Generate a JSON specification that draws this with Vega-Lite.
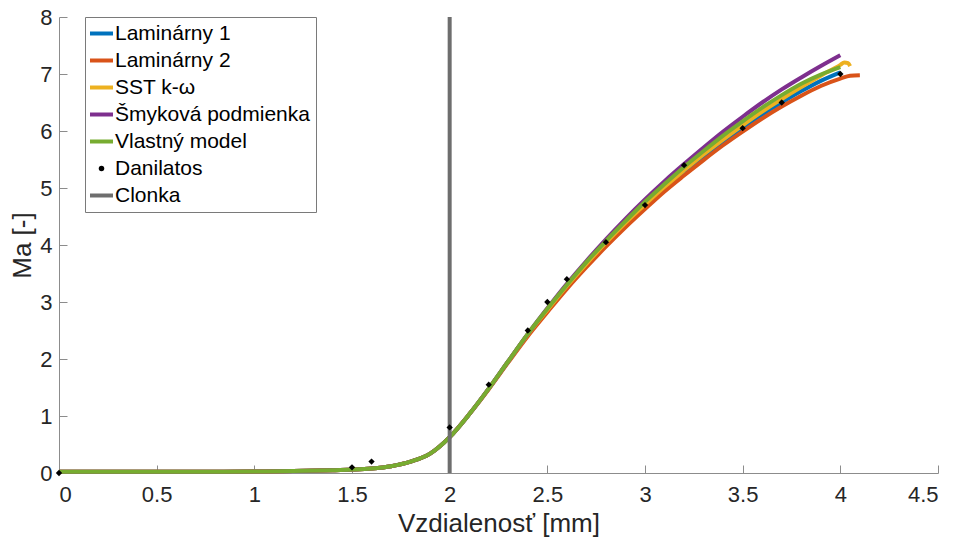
{
  "$schema": "https://vega.github.io/schema/vega-lite/v6.json",
  "width": 879,
  "height": 456,
  "autosize": "none",
  "padding": {"left": 59, "top": 17, "right": 22, "bottom": 69},
  "background": "white",
  "datasets": {
    "curves": [
      {"series":"Laminárny 1","x":0,"y":0.02},{"series":"Laminárny 1","x":0.5,"y":0.02},{"series":"Laminárny 1","x":1.0,"y":0.025},{"series":"Laminárny 1","x":1.2,"y":0.033},{"series":"Laminárny 1","x":1.4,"y":0.048},{"series":"Laminárny 1","x":1.5,"y":0.06},{"series":"Laminárny 1","x":1.6,"y":0.08},{"series":"Laminárny 1","x":1.7,"y":0.12},{"series":"Laminárny 1","x":1.8,"y":0.2},{"series":"Laminárny 1","x":1.9,"y":0.34},{"series":"Laminárny 1","x":2.0,"y":0.63},{"series":"Laminárny 1","x":2.1,"y":1.03},{"series":"Laminárny 1","x":2.2,"y":1.48},{"series":"Laminárny 1","x":2.3,"y":1.96},{"series":"Laminárny 1","x":2.4,"y":2.43},{"series":"Laminárny 1","x":2.5,"y":2.85},{"series":"Laminárny 1","x":2.6,"y":3.26},{"series":"Laminárny 1","x":2.7,"y":3.64},{"series":"Laminárny 1","x":2.8,"y":4.01},{"series":"Laminárny 1","x":2.9,"y":4.35},{"series":"Laminárny 1","x":3.0,"y":4.68},{"series":"Laminárny 1","x":3.1,"y":4.99},{"series":"Laminárny 1","x":3.2,"y":5.28},{"series":"Laminárny 1","x":3.3,"y":5.55},{"series":"Laminárny 1","x":3.4,"y":5.81},{"series":"Laminárny 1","x":3.5,"y":6.06},{"series":"Laminárny 1","x":3.6,"y":6.29},{"series":"Laminárny 1","x":3.7,"y":6.5},{"series":"Laminárny 1","x":3.8,"y":6.7},{"series":"Laminárny 1","x":3.9,"y":6.88},{"series":"Laminárny 1","x":4.0,"y":7.03},
      {"series":"Laminárny 2","x":0,"y":0.02},{"series":"Laminárny 2","x":0.5,"y":0.02},{"series":"Laminárny 2","x":1.0,"y":0.025},{"series":"Laminárny 2","x":1.2,"y":0.033},{"series":"Laminárny 2","x":1.4,"y":0.048},{"series":"Laminárny 2","x":1.5,"y":0.06},{"series":"Laminárny 2","x":1.6,"y":0.08},{"series":"Laminárny 2","x":1.7,"y":0.12},{"series":"Laminárny 2","x":1.8,"y":0.2},{"series":"Laminárny 2","x":1.9,"y":0.34},{"series":"Laminárny 2","x":2.0,"y":0.63},{"series":"Laminárny 2","x":2.1,"y":1.03},{"series":"Laminárny 2","x":2.2,"y":1.47},{"series":"Laminárny 2","x":2.3,"y":1.94},{"series":"Laminárny 2","x":2.4,"y":2.4},{"series":"Laminárny 2","x":2.5,"y":2.82},{"series":"Laminárny 2","x":2.6,"y":3.23},{"series":"Laminárny 2","x":2.7,"y":3.61},{"series":"Laminárny 2","x":2.8,"y":3.97},{"series":"Laminárny 2","x":2.9,"y":4.31},{"series":"Laminárny 2","x":3.0,"y":4.63},{"series":"Laminárny 2","x":3.1,"y":4.94},{"series":"Laminárny 2","x":3.2,"y":5.22},{"series":"Laminárny 2","x":3.3,"y":5.49},{"series":"Laminárny 2","x":3.4,"y":5.75},{"series":"Laminárny 2","x":3.5,"y":5.99},{"series":"Laminárny 2","x":3.6,"y":6.22},{"series":"Laminárny 2","x":3.7,"y":6.43},{"series":"Laminárny 2","x":3.8,"y":6.62},{"series":"Laminárny 2","x":3.9,"y":6.79},{"series":"Laminárny 2","x":4.0,"y":6.92},{"series":"Laminárny 2","x":4.05,"y":6.97},{"series":"Laminárny 2","x":4.1,"y":6.98},
      {"series":"SST k-ω","x":0,"y":0.02},{"series":"SST k-ω","x":0.5,"y":0.02},{"series":"SST k-ω","x":1.0,"y":0.025},{"series":"SST k-ω","x":1.2,"y":0.033},{"series":"SST k-ω","x":1.4,"y":0.048},{"series":"SST k-ω","x":1.5,"y":0.06},{"series":"SST k-ω","x":1.6,"y":0.08},{"series":"SST k-ω","x":1.7,"y":0.12},{"series":"SST k-ω","x":1.8,"y":0.2},{"series":"SST k-ω","x":1.9,"y":0.34},{"series":"SST k-ω","x":2.0,"y":0.63},{"series":"SST k-ω","x":2.1,"y":1.03},{"series":"SST k-ω","x":2.2,"y":1.48},{"series":"SST k-ω","x":2.3,"y":1.96},{"series":"SST k-ω","x":2.4,"y":2.43},{"series":"SST k-ω","x":2.5,"y":2.86},{"series":"SST k-ω","x":2.6,"y":3.28},{"series":"SST k-ω","x":2.7,"y":3.67},{"series":"SST k-ω","x":2.8,"y":4.04},{"series":"SST k-ω","x":2.9,"y":4.39},{"series":"SST k-ω","x":3.0,"y":4.71},{"series":"SST k-ω","x":3.1,"y":5.02},{"series":"SST k-ω","x":3.2,"y":5.31},{"series":"SST k-ω","x":3.3,"y":5.59},{"series":"SST k-ω","x":3.4,"y":5.85},{"series":"SST k-ω","x":3.5,"y":6.1},{"series":"SST k-ω","x":3.6,"y":6.34},{"series":"SST k-ω","x":3.7,"y":6.56},{"series":"SST k-ω","x":3.8,"y":6.77},{"series":"SST k-ω","x":3.9,"y":6.97},{"series":"SST k-ω","x":4.0,"y":7.16},{"series":"SST k-ω","x":4.02,"y":7.2},{"series":"SST k-ω","x":4.04,"y":7.19},{"series":"SST k-ω","x":4.05,"y":7.14},
      {"series":"Šmyková podmienka","x":0,"y":0.02},{"series":"Šmyková podmienka","x":0.5,"y":0.02},{"series":"Šmyková podmienka","x":1.0,"y":0.025},{"series":"Šmyková podmienka","x":1.2,"y":0.033},{"series":"Šmyková podmienka","x":1.4,"y":0.048},{"series":"Šmyková podmienka","x":1.5,"y":0.06},{"series":"Šmyková podmienka","x":1.6,"y":0.08},{"series":"Šmyková podmienka","x":1.7,"y":0.12},{"series":"Šmyková podmienka","x":1.8,"y":0.2},{"series":"Šmyková podmienka","x":1.9,"y":0.34},{"series":"Šmyková podmienka","x":2.0,"y":0.63},{"series":"Šmyková podmienka","x":2.1,"y":1.03},{"series":"Šmyková podmienka","x":2.2,"y":1.48},{"series":"Šmyková podmienka","x":2.3,"y":1.96},{"series":"Šmyková podmienka","x":2.4,"y":2.44},{"series":"Šmyková podmienka","x":2.5,"y":2.89},{"series":"Šmyková podmienka","x":2.6,"y":3.32},{"series":"Šmyková podmienka","x":2.7,"y":3.72},{"series":"Šmyková podmienka","x":2.8,"y":4.1},{"series":"Šmyková podmienka","x":2.9,"y":4.46},{"series":"Šmyková podmienka","x":3.0,"y":4.8},{"series":"Šmyková podmienka","x":3.1,"y":5.12},{"series":"Šmyková podmienka","x":3.2,"y":5.42},{"series":"Šmyková podmienka","x":3.3,"y":5.71},{"series":"Šmyková podmienka","x":3.4,"y":5.99},{"series":"Šmyková podmienka","x":3.5,"y":6.25},{"series":"Šmyková podmienka","x":3.6,"y":6.5},{"series":"Šmyková podmienka","x":3.7,"y":6.73},{"series":"Šmyková podmienka","x":3.8,"y":6.94},{"series":"Šmyková podmienka","x":3.9,"y":7.14},{"series":"Šmyková podmienka","x":4.0,"y":7.33},
      {"series":"Vlastný model","x":0,"y":0.02},{"series":"Vlastný model","x":0.5,"y":0.02},{"series":"Vlastný model","x":1.0,"y":0.025},{"series":"Vlastný model","x":1.2,"y":0.033},{"series":"Vlastný model","x":1.4,"y":0.048},{"series":"Vlastný model","x":1.5,"y":0.06},{"series":"Vlastný model","x":1.6,"y":0.08},{"series":"Vlastný model","x":1.7,"y":0.12},{"series":"Vlastný model","x":1.8,"y":0.2},{"series":"Vlastný model","x":1.9,"y":0.34},{"series":"Vlastný model","x":2.0,"y":0.63},{"series":"Vlastný model","x":2.1,"y":1.03},{"series":"Vlastný model","x":2.2,"y":1.48},{"series":"Vlastný model","x":2.3,"y":1.96},{"series":"Vlastný model","x":2.4,"y":2.44},{"series":"Vlastný model","x":2.5,"y":2.88},{"series":"Vlastný model","x":2.6,"y":3.3},{"series":"Vlastný model","x":2.7,"y":3.7},{"series":"Vlastný model","x":2.8,"y":4.07},{"series":"Vlastný model","x":2.9,"y":4.42},{"series":"Vlastný model","x":3.0,"y":4.76},{"series":"Vlastný model","x":3.1,"y":5.07},{"series":"Vlastný model","x":3.2,"y":5.37},{"series":"Vlastný model","x":3.3,"y":5.65},{"series":"Vlastný model","x":3.4,"y":5.92},{"series":"Vlastný model","x":3.5,"y":6.17},{"series":"Vlastný model","x":3.6,"y":6.41},{"series":"Vlastný model","x":3.7,"y":6.63},{"series":"Vlastný model","x":3.8,"y":6.83},{"series":"Vlastný model","x":3.9,"y":6.99},{"series":"Vlastný model","x":4.0,"y":7.12}
    ],
    "danilatos": [
      {"series":"Danilatos","x":0,"y":0},{"series":"Danilatos","x":1.5,"y":0.1},{"series":"Danilatos","x":1.6,"y":0.2},{"series":"Danilatos","x":2.0,"y":0.8},{"series":"Danilatos","x":2.2,"y":1.55},{"series":"Danilatos","x":2.4,"y":2.5},{"series":"Danilatos","x":2.5,"y":3.0},{"series":"Danilatos","x":2.6,"y":3.4},{"series":"Danilatos","x":2.8,"y":4.05},{"series":"Danilatos","x":3.0,"y":4.7},{"series":"Danilatos","x":3.2,"y":5.4},{"series":"Danilatos","x":3.5,"y":6.05},{"series":"Danilatos","x":3.7,"y":6.5},{"series":"Danilatos","x":4.0,"y":7.0}
    ],
    "clonka": [
      {"series":"Clonka","x":2.0,"y":0,"y2":8}
    ]
  },
  "encoding": {
    "x": {"field":"x","type":"quantitative","scale":{"domain":[0,4.5],"nice":false,"zero":false},
      "axis":{"title":"Vzdialenosť [mm]","values":[0,0.5,1,1.5,2,2.5,3,3.5,4,4.5],"format":"~g","labelPadding":19,"titlePadding":5}},
    "y": {"field":"y","type":"quantitative","scale":{"domain":[0,8],"nice":false},
      "axis":{"title":"Ma [-]","values":[0,1,2,3,4,5,6,7,8],"labelPadding":15,"titlePadding":4}},
    "color": {"field":"series","type":"nominal",
      "scale":{"domain":["Laminárny 1","Laminárny 2","SST k-ω","Šmyková podmienka","Vlastný model","Danilatos","Clonka"],
               "range":["#0072BD","#D95319","#EDB120","#7E2F8E","#77AC30","#000000","#6E6E6E"]},
      "legend":{"title":null,"orient":"none","legendX":26,"legendY":0,
        "fillColor":"white","strokeColor":"#7a7a7a","padding":6,
        "labelFont":"Liberation Sans","labelFontSize":21,"labelColor":"#000000","labelOffset":3,"labelLimit":400,
        "rowPadding":5,"symbolSize":529,"symbolStrokeWidth":4,"symbolType":"stroke",
        "encode":{"symbols":{"update":{
          "shape":{"signal":"datum.value === 'Danilatos' ? 'circle' : 'stroke'"},
          "size":{"signal":"datum.value === 'Danilatos' ? 30 : 529"},
          "strokeWidth":{"signal":"datum.value === 'Danilatos' ? 0 : 4"},
          "stroke":{"signal":"scale('color', datum.value)"},
          "fill":{"signal":"datum.value === 'Danilatos' ? '#000000' : 'transparent'"},
          "opacity":{"value":1}
        }}}
      }}
  },
  "layer": [
    {"data":{"name":"curves"},"transform":[{"filter":"datum.series === 'Laminárny 1'"}],"mark":{"type":"line","strokeWidth":4,"interpolate":"monotone"}},
    {"data":{"name":"curves"},"transform":[{"filter":"datum.series === 'Laminárny 2'"}],"mark":{"type":"line","strokeWidth":4,"interpolate":"monotone"}},
    {"data":{"name":"curves"},"transform":[{"filter":"datum.series === 'SST k-ω'"}],"mark":{"type":"line","strokeWidth":4,"interpolate":"monotone"}},
    {"data":{"name":"curves"},"transform":[{"filter":"datum.series === 'Šmyková podmienka'"}],"mark":{"type":"line","strokeWidth":4,"interpolate":"monotone"}},
    {"data":{"name":"curves"},"transform":[{"filter":"datum.series === 'Vlastný model'"}],"mark":{"type":"line","strokeWidth":4,"interpolate":"monotone"}},
    {"data":{"name":"clonka"},"mark":{"type":"rule","strokeWidth":4},"encoding":{"y2":{"field":"y2"}}},
    {"data":{"name":"danilatos"},"mark":{"type":"point","filled":true,"shape":"diamond","size":40,"opacity":1}}
  ],
  "config": {
    "view": {"stroke": null},
    "axis": {"grid": false, "domainColor": "#8c8c8c", "domainWidth": 1, "tickColor": "#8c8c8c", "tickSize": -8, "tickWidth": 1,
      "labelFont": "Liberation Sans", "labelFontSize": 22, "labelColor": "#262626",
      "titleFont": "Liberation Sans", "titleFontSize": 26, "titleFontWeight": "normal", "titleColor": "#262626"}
  }
}
